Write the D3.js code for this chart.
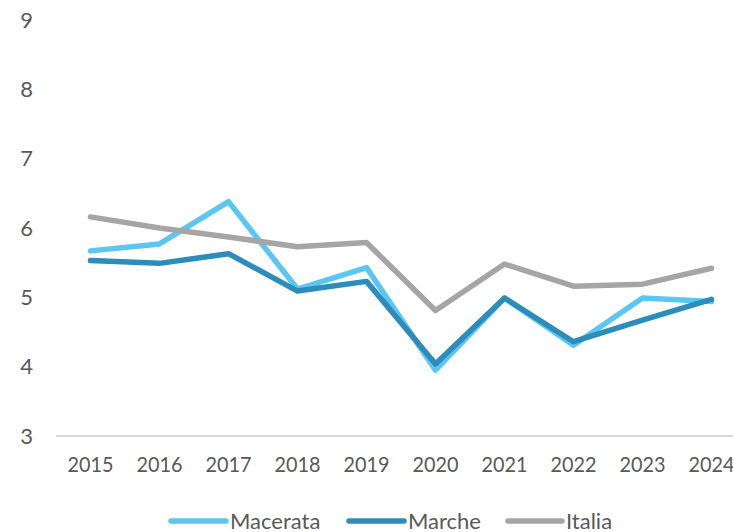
<!DOCTYPE html>
<html>
<head>
<meta charset="utf-8">
<script src="https://cdn.jsdelivr.net/npm/d3@7"></script>
<style>
  html, body { margin: 0; padding: 0; background: #ffffff; }
  svg { display: block; }
  text { font-family: "Source Sans Pro", Lato, "Noto Sans", sans-serif; fill: #595959; }
</style>
</head>
<body>
<svg id="chart" width="733" height="532"></svg>
<script>
const years = ["2015","2016","2017","2018","2019","2020","2021","2022","2023","2024"];
const macerata = [5.67, 5.77, 6.38, 5.12, 5.43, 3.95, 4.99, 4.31, 4.99, 4.94];
const marche   = [5.53, 5.49, 5.63, 5.09, 5.23, 4.04, 4.99, 4.36, 4.67, 4.97];
const italia   = [6.16, 6.00, 5.87, 5.73, 5.79, 4.81, 5.48, 5.16, 5.19, 5.42];
const yTicks = [3, 4, 5, 6, 7, 8, 9];
const seriesNames = ["Macerata", "Marche", "Italia"];
const seriesColors = ["#5BC6F1", "#2C8CBB", "#A5A5A5"];

const series = [
  { name: seriesNames[0], values: macerata, color: seriesColors[0] },
  { name: seriesNames[1], values: marche,   color: seriesColors[1] },
  { name: seriesNames[2], values: italia,   color: seriesColors[2] }
];

const svg = d3.select("#chart");
const plot = { left: 56, right: 746, top: 20, bottom: 436 };

const x = d3.scaleBand().domain(years).range([plot.left, plot.right]);
const y = d3.scaleLinear().domain([3, 9]).range([plot.bottom, plot.top]);

// baseline gridline at 3
svg.append("line")
  .attr("x1", plot.left).attr("x2", 733)
  .attr("y1", y(3)).attr("y2", y(3))
  .attr("stroke", "#D9D9D9").attr("stroke-width", 2);

// y axis labels
const yAxis = d3.axisLeft(y).tickValues(yTicks).tickSize(0).tickPadding(0).tickFormat(d3.format("d"));
const gy = svg.append("g").attr("transform", "translate(33,0)").call(yAxis);
gy.select(".domain").remove();
gy.selectAll("text").attr("font-size", 22).style("font-family", "Lato, sans-serif").attr("fill", "#595959");

// x axis labels
const xAxis = d3.axisBottom(x).tickSize(0).tickPadding(0);
const gx = svg.append("g").attr("transform", "translate(0,456)").call(xAxis);
gx.select(".domain").remove();
gx.selectAll("text").attr("font-size", 22).style("font-family", "Lato, sans-serif").attr("fill", "#595959")
  .attr("dy", "0.71em").attr("textLength", 46).attr("lengthAdjust", "spacingAndGlyphs");

// lines
const line = d3.line()
  .x((d, i) => x(years[i]) + x.bandwidth() / 2)
  .y(d => y(d));

svg.append("g").selectAll("path")
  .data(series)
  .join("path")
  .attr("d", d => line(d.values))
  .attr("fill", "none")
  .attr("stroke", d => d.color)
  .attr("stroke-width", 5.5)
  .attr("stroke-linejoin", "round")
  .attr("stroke-linecap", "round");

// legend
const legendItems = [
  { x0: 171, x1: 226, tx: 230 },
  { x0: 349, x1: 404, tx: 408 },
  { x0: 508, x1: 562, tx: 566 }
];
const lg = svg.append("g");
series.forEach((s, i) => {
  const it = legendItems[i];
  lg.append("line")
    .attr("x1", it.x0).attr("x2", it.x1)
    .attr("y1", 521).attr("y2", 521)
    .attr("stroke", s.color).attr("stroke-width", 5.5)
    .attr("stroke-linecap", "round");
  lg.append("text")
    .attr("x", it.tx).attr("y", 521)
    .attr("dy", "0.36em")
    .attr("font-size", 22)
    .style("font-family", "Lato, sans-serif")
    .text(s.name);
});
</script>
</body>
</html>
